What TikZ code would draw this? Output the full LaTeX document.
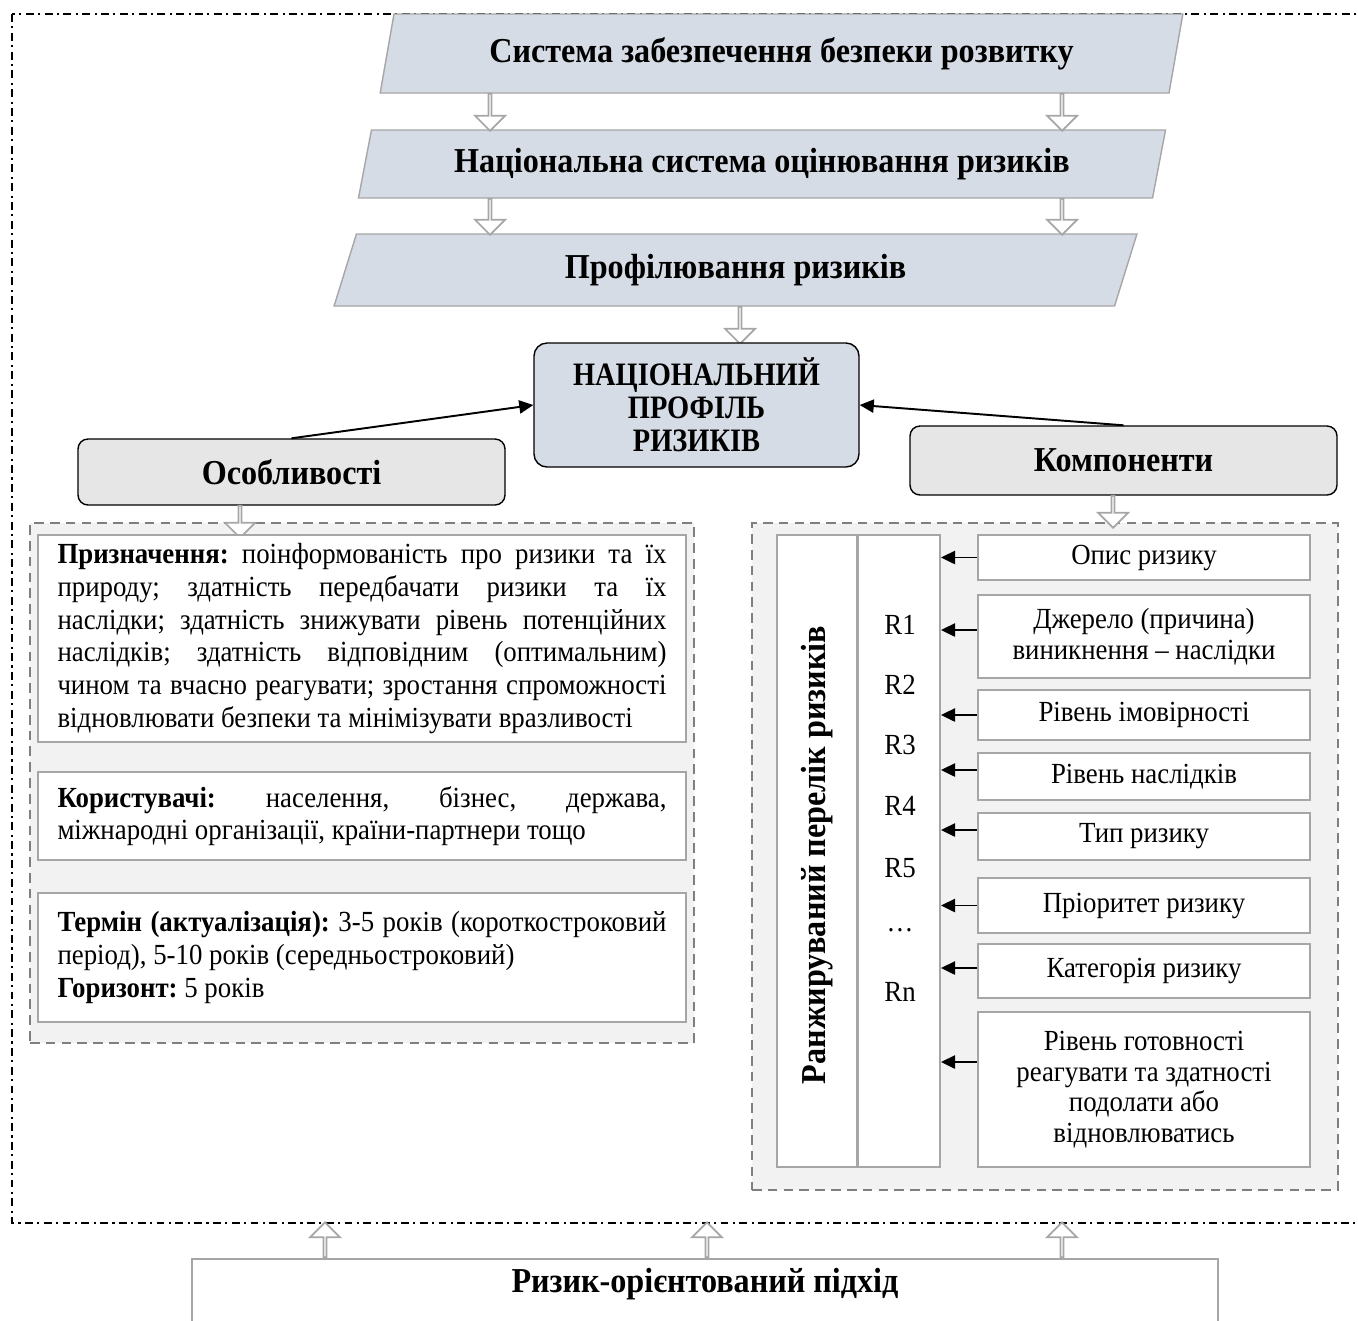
\documentclass[tikz,border=0pt]{standalone}
\usepackage{fontspec}
\setmainfont{Liberation Serif}[FakeStretch=0.92]
\newfontfamily\capsfont{Liberation Serif}[FakeStretch=0.87]
\usetikzlibrary{shapes.geometric,shapes.arrows,arrows.meta}

\definecolor{parafill}{HTML}{D6DCE5}
\definecolor{headfill}{HTML}{E7E6E6}
\definecolor{panelfill}{HTML}{F2F2F2}
\definecolor{boxline}{HTML}{A6A6A6}
\definecolor{panelline}{HTML}{7F7F7F}

\newlength\ux
\setlength\ux{0.02cm}
\newcommand{\bodyfont}{\fontsize{16.6}{18.6}\selectfont}
\newcommand{\itemfont}{\fontsize{16.6}{17.4}\selectfont}
\newcommand{\headfont}{\fontsize{19.9}{18.7}\selectfont\bfseries}
\newcommand{\natfont}{\capsfont\fontsize{18.6}{18.7}\selectfont\bfseries}
\hyphenpenalty=10000
\exhyphenpenalty=10000
\frenchspacing

\begin{document}
\begin{tikzpicture}[x=\ux, y=-\ux,
  para/.style={trapezium, trapezium left angle=76.5, trapezium right angle=103.5,
    trapezium stretches=true, draw=boxline, line width=0.8pt, fill=parafill, font=\headfont},
  fatarr/.style={single arrow, draw=boxline, fill=white, line width=1pt, minimum width=30\ux,
    single arrow head extend=8\ux, single arrow tip angle=90, inner sep=0pt},
  headbox/.style={draw=black, line width=0.8pt, rounded corners=10\ux, fill=headfill, font=\headfont},
  panel/.style={draw=panelline, fill=panelfill, line width=1.1pt, dashed, dash pattern=on 5.5pt off 3.5pt},
  txtbox/.style={draw=boxline, line width=1.1pt, fill=white, text width=609\ux, inner xsep=19.5\ux,
    align=justify, font=\bodyfont},
  colbox/.style={draw=boxline, line width=1.1pt, fill=white, inner sep=0pt},
  itembox/.style={draw=boxline, line width=1.1pt, fill=white, minimum width=332\ux, align=center,
    font=\itemfont, inner sep=0pt},
  conn/.style={line width=1.1pt, -{Triangle[length=8pt, width=7.5pt]}}]

\useasboundingbox (0,0) rectangle (1358,1320);

% outer frame
\draw[line width=0.8pt, dash pattern=on 4.5pt off 2.5pt on 1.2pt off 2.5pt] (12,14) rectangle (1380,1223);

% top chain
\node[para, minimum width=805\ux, minimum height=79\ux] (sys) at (781.5,53.5) {Система забезпечення безпеки розвитку};
\node[para, minimum width=810\ux, minimum height=68\ux] (nsr) at (762,164) {Національна система оцінювання ризиків};
\node[para, minimum width=805\ux, minimum height=72\ux] (prof) at (735.5,270) {Профілювання ризиків};

\foreach \x in {490,1062} {
  \node[fatarr, shape border rotate=270, minimum height=37\ux] (da\x) at (\x,111.5) {};
  \node[fatarr, shape border rotate=270, minimum height=36\ux] (db\x) at (\x,216) {};
}
\node[fatarr, shape border rotate=270, minimum height=37\ux] (dc) at (740,324.5) {};

% national profile
\node[headbox, fill=parafill, rounded corners=13\ux, minimum width=325\ux, minimum height=124\ux, align=center, font=\natfont] (nat) at (696.5,405) {НАЦІОНАЛЬНИЙ\\ПРОФІЛЬ\\РИЗИКІВ};

\node[headbox, minimum width=427\ux, minimum height=66\ux] (feat) at (291.5,472) {Особливості};
\node[headbox, minimum width=427\ux, minimum height=69\ux] (comp) at (1123.5,460.5) {Компоненти};

\draw[conn] (feat.north) -- (nat.west);
\draw[conn] (comp.north) -- (nat.east);

% panels
\node[panel, minimum width=664\ux, minimum height=520\ux] (lpan) at (362,783) {};
\node[panel, minimum width=586\ux, minimum height=667\ux] (rpan) at (1045,856.5) {};

\node[fatarr, shape border rotate=270, minimum height=32\ux] (df) at (240,521) {};
\node[fatarr, shape border rotate=270, minimum height=32\ux] (dg) at (1113,511) {};

% left side
\node[txtbox, minimum height=207\ux] (purp) at (362,638.5) {\textbf{Призначення:} поінформованість про ризики та їх\linebreak природу; здатність передбачати ризики та їх\linebreak наслідки; здатність знижувати рівень потенційних\linebreak наслідків; здатність відповідним (оптимальним)\linebreak чином та вчасно реагувати; зростання спроможності\linebreak відновлювати безпеки та мінімізувати вразливості};
\node[txtbox, minimum height=88\ux] (usr) at (362,816) {\textbf{Користувачі:} населення, бізнес, держава,\linebreak міжнародні організації, країни-партнери тощо};
\node[txtbox, minimum height=129\ux] (term) at (362,957.5) {\textbf{Термін (актуалізація):} 3-5 років (короткостроковий\linebreak період), 5-10 років (середньостроковий)\\\textbf{Горизонт:} 5 років};

% right side
\node[colbox, minimum width=80\ux, minimum height=632\ux] (rank) at (817,851) {};
\node[rotate=90, font=\headfont] (ranktxt) at (817,855) {Ранжируваний перелік ризиків};
\node[colbox, minimum width=82\ux, minimum height=632\ux] (rlist) at (899,851) {};

\foreach \n/\t/\y in {1/R1/625, 2/R2/685, 3/R3/745, 4/R4/806, 5/R5/868, 6/…/930, 7/Rn/992}
  \node[font=\bodyfont] (r\n) at (900,\y) {\t};

\foreach \n/\y/\h/\u/\txt in {
    1/557.5/45/0/{Опис ризику},
    2/636.5/83/6.5/{Джерело (причина)\\виникнення – наслідки},
    3/715/50/0/{Рівень імовірності},
    4/776.5/47/6.5/{Рівень наслідків},
    5/836.5/47/6.5/{Тип ризику},
    6/905.5/55/0/{Пріоритет ризику},
    7/971/54/3/{Категорія ризику},
    8/1089.5/155/27.5/{Рівень готовності\\реагувати та здатності\\подолати або\\відновлюватись}} {
  \node[itembox, minimum height=\h\ux] (cb\n) at (1144,\y) {\txt};
  \draw[conn] ([yshift=\u\ux]cb\n.west) -- ([yshift=\u\ux]cb\n.west -| rlist.east);
}

% bottom
\node[draw=boxline, line width=1.1pt, minimum width=1026\ux, minimum height=120\ux, anchor=north] (risk) at (705,1258) {};
\node[font=\headfont] (risktxt) at (705,1284) {Ризик-орієнтований підхід};
\foreach \x in {325,707,1062}
  \node[fatarr, shape border rotate=90, minimum height=35\ux] (ua\x) at (\x,1240.5) {};

\end{tikzpicture}
\end{document}
